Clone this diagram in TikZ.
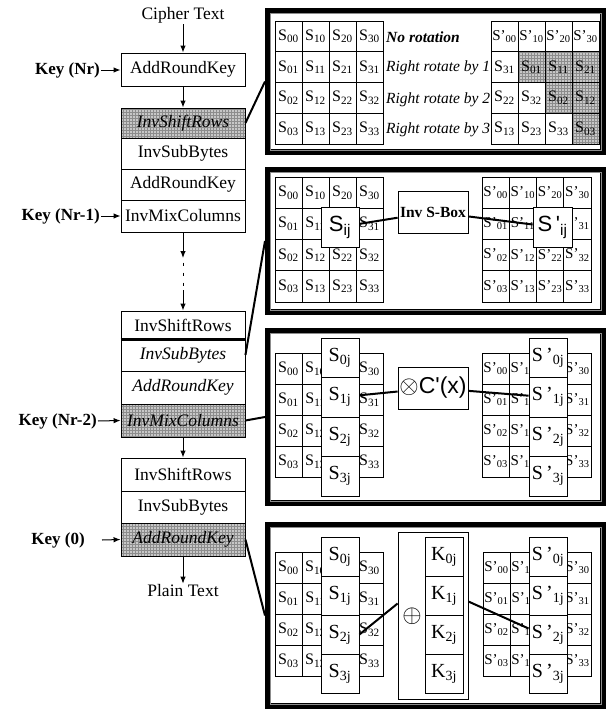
\documentclass[tikz,border=0pt]{standalone}
\usepackage{fontspec}
\setmainfont{Liberation Serif}
\newfontfamily\arialfont{Liberation Sans}
\usetikzlibrary{arrows.meta,positioning,patterns}

\begin{document}
\begin{tikzpicture}[x=1pt, y=-1pt,
  stepbox/.style={draw, fill=white, line width=0.9pt, minimum width=124pt, inner sep=0pt, font=\fontsize{17.5}{18}\selectfont},
  ital/.style={font=\fontsize{17.5}{18}\selectfont\itshape},
  shaded/.style={preaction={fill=black!22}, pattern=grid, pattern color=black!45},
  keylab/.style={anchor=east, inner sep=1pt, font=\fontsize{17}{18}\selectfont\bfseries},
  flowlab/.style={inner sep=1pt, font=\fontsize{17.5}{18}\selectfont},
  arr/.style={-{Latex[length=7pt,width=5.5pt]}, line width=1pt},
  link/.style={line width=2pt},
  panel/.style={draw, line width=6pt, minimum width=335pt, inner sep=0pt},
  cell/.style={draw, fill=white, line width=0.7pt, minimum width=27pt, minimum height=31pt, inner sep=0pt, font=\fontsize{16}{16}\selectfont},
  pcell/.style={cell, font=\fontsize{15}{15}\selectfont},
  shcell/.style={cell, shaded},
  colcell/.style={draw, fill=white, line width=0.8pt, minimum width=38pt, minimum height=39.5pt, inner sep=0pt, font=\fontsize{20}{20}\selectfont},
  opbox/.style={draw, fill=white, line width=0.8pt, minimum width=70pt, minimum height=42pt, inner sep=0pt}
]
  \useasboundingbox (0,0) rectangle (606,709);

  %--- Panels ---
  \node[panel, minimum height=141pt] (p1) at (435.5,81.5) {};
  \node[panel, minimum height=142pt] (p2) at (435.5,241) {};
  \node[panel, minimum height=172pt] (p3) at (435.5,417) {};
  \node[panel, minimum height=181pt] (p4) at (435.5,615.5) {};
  \foreach \p in {p1,p2,p3,p4}
    \draw[black!45, line width=0.6pt] ([shift={(5pt,5pt)}]\p.south west) rectangle ([shift={(-5pt,-5pt)}]\p.north east);

  %--- Decryption flow ---
  \node[flowlab] (ct) at (183,15) {Cipher Text};
  \node[stepbox, minimum height=33pt] (ark1) at (183,69.5) {AddRoundKey};
  \node[keylab] (knr) at (101,70) {Key (Nr)};
  \draw[arr] (ct) -- (ark1);
  \draw[arr] (knr.east) -- (knr.east -| ark1.west);

  % round Nr-1
  \node[stepbox, shaded, ital, minimum height=30pt] (isr1) at (183,123) {InvShiftRows};
  \node[stepbox, minimum height=31pt] (isb1) at (183,153.5) {InvSubBytes};
  \node[stepbox, minimum height=31pt] (ark2) at (183,184.5) {AddRoundKey};
  \node[stepbox, minimum height=32pt] (imc1) at (183,216) {InvMixColumns};
  \node[keylab] (knr1) at (101,216) {Key (Nr-1)};
  \draw[arr] (ark1) -- (isr1);
  \draw[arr] (knr1.east) -- (imc1.west);

  % dots
  \coordinate (dtop) at (183,258);
  \coordinate (dbot) at (183,290);
  \draw[arr] (imc1) -- (dtop);
  \foreach \y in {264,274,284}
    \draw[line width=1pt] (183,\y-1.5) -- (183,\y+1.5);

  % round 1
  \node[stepbox, minimum height=28pt] (isr2) at (183,325) {InvShiftRows};
  \node[stepbox, ital, minimum height=32pt] (isb2) at (183,355) {InvSubBytes};
  \node[stepbox, ital, minimum height=33pt] (ark3) at (183,387.5) {AddRoundKey};
  \node[stepbox, shaded, ital, minimum height=33pt] (imc2) at (183,420.5) {InvMixColumns};
  \draw[line width=2.5pt] (isr2.south west) -- (isr2.south east);
  \node[keylab] (knr2) at (98,421) {Key (Nr-2)};
  \draw[arr] (dbot) -- (isr2);
  \draw[arr] (knr2.east) -- (imc2.west);

  % last round
  \node[stepbox, minimum height=33pt] (isr3) at (183,474.5) {InvShiftRows};
  \node[stepbox, minimum height=32pt] (isb3) at (183,507) {InvSubBytes};
  \node[stepbox, shaded, ital, minimum height=33pt] (ark4) at (183,539.5) {AddRoundKey};
  \node[keylab] (k0) at (86,540) {Key (0)};
  \coordinate (k0s) at (102,540);
  \node[flowlab] (pt) at (183,591) {Plain Text};
  \draw[arr] (imc2) -- (isr3);
  \draw[arr] (k0s) -- (ark4.west);
  \draw[arr] (ark4) -- (pt);

  % links to panels
  \draw[link] (isr1.east) -- (p1.west);
  \draw[link] (isb2.east) -- (p2.west);
  \draw[link] (imc2.east) -- (p3.west);
  \draw[link] (ark4.east) -- (p4.west);

  %--- Panel 1: InvShiftRows ---
  \foreach \c in {0,...,3}
    \foreach \r in {0,...,3}
      \node[cell, minimum height=30.75pt] (a\c\r) at (288.5+27*\c,36.4+30.75*\r) {S\textsubscript{\c\r}};
  \foreach \c in {0,...,3}
    \node[pcell, minimum height=30.75pt] (b\c0) at (504.5+27*\c,36.4) {S'\textsubscript{\c0}};
  \foreach \c/\r/\lab in {0/1/31, 0/2/22, 1/2/32, 0/3/13, 1/3/23, 2/3/33}
    \node[cell, minimum height=30.75pt] (b\c\r) at (504.5+27*\c,36.4+30.75*\r) {S\textsubscript{\lab}};
  \foreach \c/\r/\lab in {1/1/01, 2/1/11, 3/1/21, 2/2/02, 3/2/12, 3/3/03}
    \node[shcell, minimum height=30.75pt] (b\c\r) at (504.5+27*\c,36.4+30.75*\r) {S\textsubscript{\lab}};
  \node[anchor=west, inner sep=1pt, font=\fontsize{15.5}{16}\selectfont\bfseries\itshape] (rl0) at (385,37) {No rotation};
  \foreach \r/\y in {1/68,2/99.5,3/130}
    \node[anchor=west, inner sep=1pt, font=\fontsize{15.5}{16}\selectfont\itshape] (rl\r) at (385,\y) {Right rotate by \r};

  %--- Panel 2: InvSubBytes ---
  \foreach \c in {0,...,3}
    \foreach \r in {0,...,3} {
      \node[cell, minimum height=31.25pt] (c\c\r) at (288.5+27*\c,192.6+31.25*\r) {\ifnum\c\r=21 \else S\textsubscript{\c\r}\fi};
      \node[pcell, minimum width=27.25pt, minimum height=31.25pt] (d\c\r) at (495.6+27.25*\c,192.6+31.25*\r) {\ifnum\c\r=21 \else S'\textsubscript{\c\r}\fi};
    }
  \node[draw, fill=white, line width=0.8pt, minimum width=38pt, minimum height=40pt, inner sep=0pt, font=\arialfont\fontsize{22}{22}\selectfont] (sij) at (340,227) {S\textsubscript{ij}};
  \node[draw, fill=white, line width=0.8pt, minimum width=39pt, minimum height=40pt, inner sep=0pt, font=\arialfont\fontsize{22}{22}\selectfont] (sijp) at (552.5,227) {S\,'\textsubscript{ij}};
  \node[opbox, font=\fontsize{15.5}{16}\selectfont\bfseries] (sbox) at (433,212) {Inv S-Box};
  \draw[link] (sij) -- (sbox);
  \draw[link] (sbox) -- (sijp);

  %--- Panel 3: InvMixColumns ---
  \foreach \c in {0,1,3}
    \foreach \r in {0,...,3} {
      \node[cell] (e\c\r) at (288.5+27*\c,368.5+31*\r) {S\textsubscript{\c\r}};
      \node[pcell, minimum width=27.25pt] (f\c\r) at (495.6+27.25*\c,368.5+31*\r) {S'\textsubscript{\c\r}};
    }
  \foreach \r in {0,...,3} {
    \node[colcell] (g\r) at (340,357.75+39.5*\r) {S\textsubscript{\r j}};
    \node[colcell] (h\r) at (548,357.75+39.5*\r) {S\,'\textsubscript{\r j}};
  }
  \node[opbox, font=\arialfont\fontsize{23}{23}\selectfont] (mix) at (433,388) {$\otimes$C'(x)};
  \draw[link] (g1) -- (mix);
  \draw[link] (mix) -- (h1);

  %--- Panel 4: AddRoundKey ---
  \foreach \c in {0,1,3}
    \foreach \r in {0,...,3} {
      \node[cell] (m\c\r) at (288.5+27*\c,567.5+31*\r) {S\textsubscript{\c\r}};
      \node[pcell] (n\c\r) at (496.5+27*\c,567.5+31*\r) {S'\textsubscript{\c\r}};
    }
  \node[opbox, minimum height=167pt] (xbox) at (433,615.5) {};
  \node (xor) at (412,616) {\fontsize{24}{24}\selectfont$\oplus$};
  \foreach \r in {0,...,3} {
    \node[colcell, minimum height=39pt] (s\r) at (340,556.5+39*\r) {S\textsubscript{\r j}};
    \node[colcell, minimum height=39pt] (k\r) at (444,556.5+39*\r) {K\textsubscript{\r j}};
    \node[colcell, minimum height=39pt] (t\r) at (548,556.5+39*\r) {S\,'\textsubscript{\r j}};
  }
  \draw[link] (s2.east) -- ([yshift=12pt]xbox.west);
  \draw[link] ([yshift=14pt]xbox.east) -- ([yshift=6pt]t2.west);
\end{tikzpicture}
\end{document}
